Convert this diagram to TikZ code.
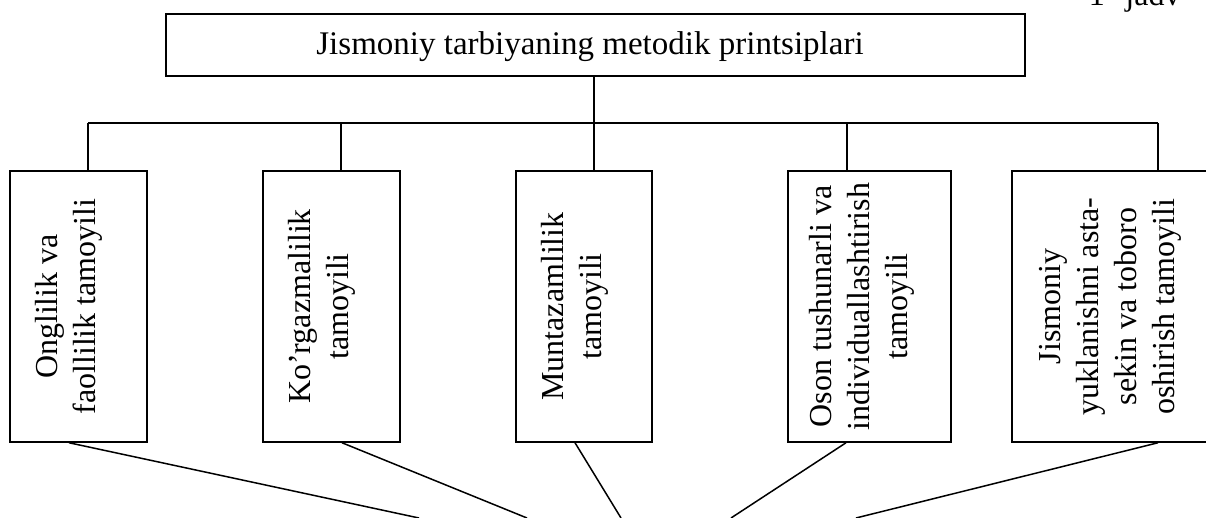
\documentclass[tikz,border=0pt]{standalone}
\usepackage{fontspec}
\setmainfont{Liberation Serif}
\begin{document}
\begin{tikzpicture}[x=1pt,y=-1pt,
  line width=1.5pt,
  frame/.style={draw,rectangle,inner sep=0pt,line width=1.5pt},
  vtext/.style={rotate=90,align=center,inner sep=0pt,font=\fontsize{32}{38}\selectfont},
  htext/.style={inner sep=0pt,font=\fontsize{32}{38}\selectfont},
  wire/.style={line width=1.5pt}]
\useasboundingbox (0,0) rectangle (1206,518);
% title box
\node[frame,minimum width=859pt,minimum height=62pt] (top) at (595.5,45) {};
\node[htext,font=\fontsize{33}{38}\selectfont] (toptext) at (590,47) {Jismoniy tarbiyaning metodik printsiplari};
\node[htext,anchor=base west] (jadval) at (1088,6) {1-\hspace{10pt}jadv};
% boxes
\node[frame,minimum width=137pt,minimum height=271pt] (b1) at (78.5,306.5) {};
\node[frame,minimum width=137pt,minimum height=271pt] (b2) at (331.5,306.5) {};
\node[frame,minimum width=136pt,minimum height=271pt] (b3) at (584,306.5) {};
\node[frame,minimum width=163pt,minimum height=271pt] (b4) at (869.5,306.5) {};
\node[frame,minimum width=214pt,minimum height=271pt] (b5) at (1119,306.5) {};
% texts
\node[vtext] (t1) at (69,306.5) {Onglilik va\\faollilik tamoyili};
\node[vtext] (t2) at (322,306.5) {Ko’rgazmalilik\\tamoyili};
\node[vtext] (t3) at (575,306.5) {Muntazamlilik\\tamoyili};
\node[vtext] (t4) at (862,306.5) {Oson tushunarli va\\individuallashtirish\\tamoyili};
\node[vtext] (t5) at (1110,306.5) {Jismoniy\\yuklanishni asta-\\sekin va toboro\\oshirish tamoyili};
% bus
\coordinate (hub) at (594,123);
\coordinate (busL) at (88,123);
\coordinate (busR) at (1158,123);
\draw[wire] (top.south -| hub) -- (hub);
\draw[wire] (busL) -- (busR);
\draw[wire] (busL) -- (b1.north -| busL);
\draw[wire] (341,123) -- (b2.north -| 341,0);
\draw[wire] (hub) -- (b3.north -| hub);
\draw[wire] (847,123) -- (b4.north -| 847,0);
\draw[wire] (busR) -- (b5.north -| busR);
% bottom convergent lines
\coordinate (e1) at (419,518);
\coordinate (e2) at (527,518);
\coordinate (e3) at (621,518);
\coordinate (e4) at (731,518);
\coordinate (e5) at (856,518);
\draw[wire] (b1.south -| 69,0) -- (e1);
\draw[wire] (b2.south -| 342,0) -- (e2);
\draw[wire] (b3.south -| 575,0) -- (e3);
\draw[wire] (b4.south -| 846,0) -- (e4);
\draw[wire] (b5.south -| 1158,0) -- (e5);
\end{tikzpicture}
\end{document}
